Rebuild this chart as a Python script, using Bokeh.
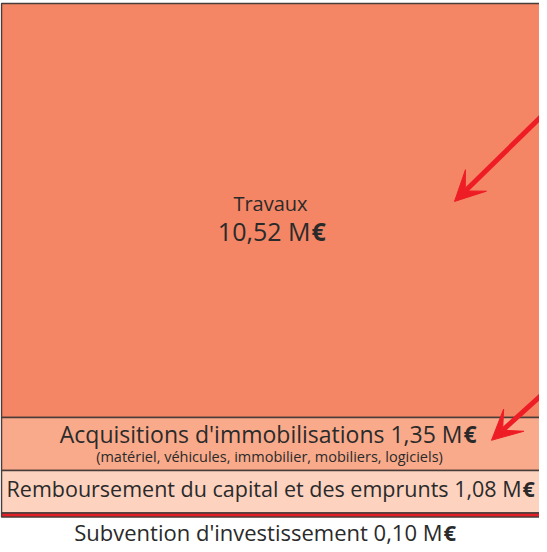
from bokeh.plotting import figure
from bokeh.models import Range1d, ColumnDataSource, Arrow, VeeHead
from bokeh.embed import file_html
from bokeh.resources import INLINE
from bokeh.core.properties import value

# ---- data ----
categories = ["Travaux",
              "Acquisitions d'immobilisations",
              "Remboursement du capital et des emprunts",
              "Subvention d'investissement"]
values = [10.52, 1.35, 1.08, 0.10]
subtitles = ["", "(matériel, véhicules, immobilier, mobiliers, logiciels)", "", ""]
colors = ["#F48665", "#F9AA8B", "#FDD3C0", "#E31E24"]
unit = "€"

def fmt(v):
    return ("%.2f" % v).replace(".", ",") + " M"

# ---- layout ----
W, H = 539, 548
scale = 39.35          # pixels per M€
top_pad = 3
FONT = "Open Sans"
TXT = "#2a2a2a"

tops, bottoms = [], []
acc = 0.0
for v in values:
    tops.append(acc)
    acc += v
    bottoms.append(acc)

p = figure(width=W, height=H, output_backend="svg", toolbar_location=None,
           x_range=Range1d(-1, W - 1),
           y_range=Range1d(start=(H - top_pad) / scale, end=-top_pad / scale),
           x_axis_location=None, y_axis_location=None, min_border=0)
p.grid.visible = False
p.outline_line_color = None
p.background_fill_color = "white"
p.border_fill_color = "white"

src = ColumnDataSource(dict(top=tops, bottom=bottoms, color=colors))
p.quad(left=0, right=W + 6, top="top", bottom="bottom", source=src,
       fill_color="color", line_color="#4a3c38", line_width=1.5)

xc = 269
px = 1.0 / scale

def value_label(x_end, y, txt, size):
    # regular text ending at x_end, followed by a bold euro sign
    p.text(x=[x_end], y=[y], text=[txt], text_align="right", text_baseline="middle",
           text_font=value(FONT), text_font_size=size, text_color=TXT)
    p.text(x=[x_end + 1], y=[y], text=[unit], text_align="left", text_baseline="middle",
           text_font=value(FONT), text_font_size=size, text_font_style="bold",
           text_color=TXT)

# Travaux
mid0 = (tops[0] + bottoms[0]) / 2
p.text(x=[xc], y=[mid0 - 7 * px], text=[categories[0]], text_align="center",
       text_baseline="middle", text_font=value(FONT), text_font_size="20px", text_color=TXT)
value_label(309, mid0 + 21 * px, fmt(values[0]), "25px")

# Acquisitions
mid1 = (tops[1] + bottoms[1]) / 2
value_label(461, mid1 - 10 * px, categories[1] + " " + fmt(values[1]), "23px")
p.text(x=[xc - 1], y=[mid1 + 12.5 * px], text=[subtitles[1]], text_align="center",
       text_baseline="middle", text_font=value(FONT), text_font_size="14.5px", text_color=TXT)

# Remboursement
mid2 = (tops[2] + bottoms[2]) / 2
value_label(520, mid2 - 3 * px, categories[2] + " " + fmt(values[2]), "21.5px")

# Subvention (below its thin band)
value_label(441, bottoms[3] + 14.5 * px, categories[3] + " " + fmt(values[3]), "22px")

# arrows
RED = "#EE1C25"
arrows = [((591, 1.60), (453, 5.03)), ((586, 8.89), (490, 11.10))]
for (x0, y0), (x1, y1) in arrows:
    p.add_layout(Arrow(x_start=x0, y_start=y0, x_end=x1, y_end=y1,
                       line_color=RED, line_width=5,
                       end=VeeHead(size=30, fill_color=RED, line_color=RED, line_width=1)))

open("out.html", "w").write(file_html(p, INLINE))
